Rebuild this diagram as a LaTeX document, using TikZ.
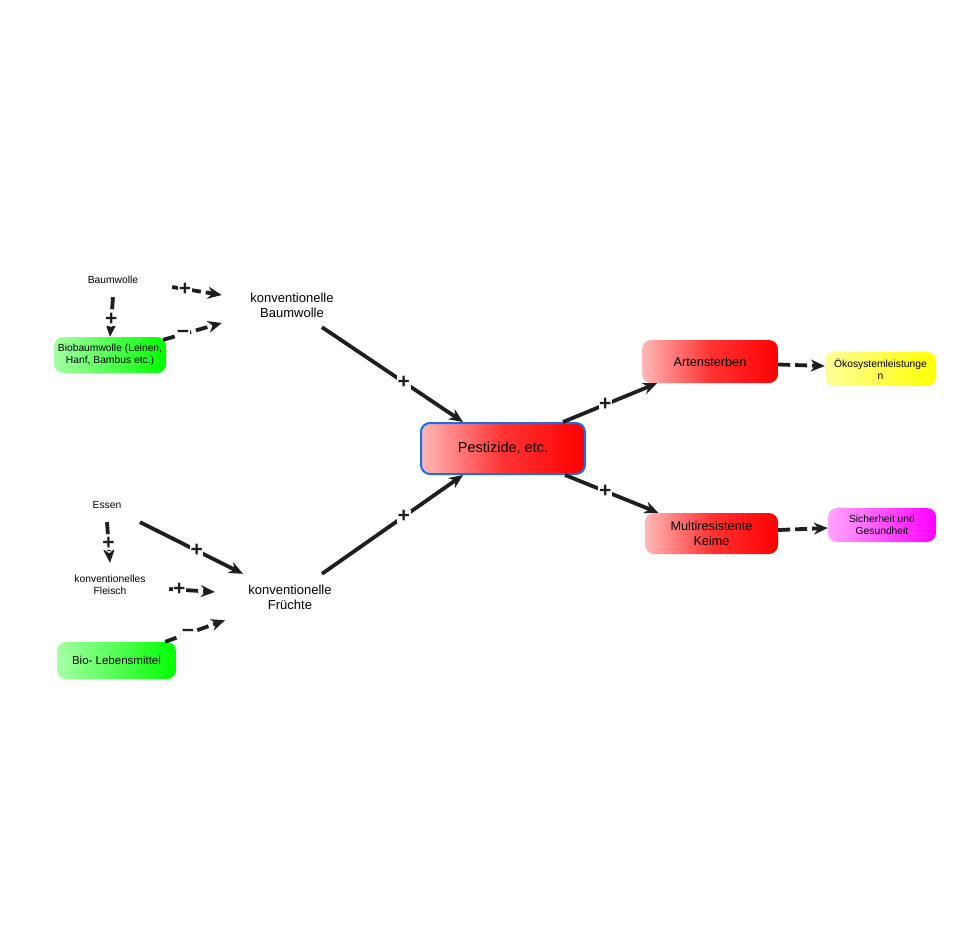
\documentclass[tikz,border=0pt]{standalone}
\usepackage{fontspec}
\setmainfont{Liberation Sans}
\usepackage{tikz}
\usetikzlibrary{calc,arrows.meta}
\usepackage{xcolor}
\definecolor{lineGray}{HTML}{1E1E1E}
\definecolor{rimBlue}{HTML}{1A6EE6}

\begin{document}
\begin{tikzpicture}[x=1pt,y=-1pt,
  small/.style={align=center,inner sep=0pt,font=\fontsize{10.3}{12}\selectfont},
  mid/.style={align=center,inner sep=0pt,font=\fontsize{13}{15}\selectfont},
  box/.style={align=center,inner sep=0pt,rounded corners=9pt},
  redbox/.style={box,left color=red!28,right color=red,middle color=red!80},
  arr/.style={draw=lineGray,line width=3.8pt,-{Stealth[length=14pt,width=12pt]}},
  dashy/.style={dash pattern=on 12pt off 5pt},
  sign/.style={fill=white,inner sep=0.6pt,text=lineGray,font=\bfseries\fontsize{21}{21}\selectfont}]
  \useasboundingbox (0,0) rectangle (954,935);
  % upper left group
  \node[small,minimum width=118pt,minimum height=34pt] (nBw) at (113,280) {Baumwolle};
  \node[mid,minimum width=140pt,minimum height=44pt] (nKBw) at (292,305) {konventionelle\\Baumwolle};
  \node[small,box,left color=green!35,right color=green,minimum width=112pt,minimum height=36pt] (nBio) at (110,355) {Biobaumwolle (Leinen,\\Hanf, Bambus etc.)};
  % lower left group
  \node[small,minimum width=118pt,minimum height=34pt] (nEs) at (107,505) {Essen};
  \node[small,minimum width=118pt,minimum height=44pt] (nFl) at (110,585) {konventionelles\\Fleisch};
  \node[mid,minimum width=150pt,minimum height=46pt] (nKFr) at (290,597) {konventionelle\\Früchte};
  \node[box,left color=green!35,right color=green,minimum width=119pt,minimum height=37pt,font=\fontsize{11.5}{13}\selectfont] (nBioL) at (116.5,660.5) {Bio- Lebensmittel};
  % centre and right
  \node[redbox,draw=rimBlue,line width=2pt,minimum width=164pt,minimum height=51pt,font=\fontsize{14.5}{16}\selectfont] (nPe) at (503,448.5) {Pestizide, etc.};
  \node[redbox,mid,font=\fontsize{12.7}{15}\selectfont,minimum width=136pt,minimum height=43pt] (nArt) at (710,361.5) {Artensterben};
  \node[redbox,mid,font=\fontsize{12.7}{15}\selectfont,minimum width=133pt,minimum height=41pt] (nMr) at (711.5,533.5) {Multiresistente\\Keime};
  \node[small,box,left color=yellow!40,right color=yellow,minimum width=111pt,minimum height=34pt] (nOek) at (880.5,369) {Ökosystemleistunge\\n};
  \node[small,box,left color=magenta!35,right color=magenta,minimum width=108pt,minimum height=34pt] (nSi) at (882,525) {Sicherheit und\\Gesundheit};

  \draw[arr,dashy] ([yshift=-7pt]nBw.east) -- node[sign,pos=.26]{+} ([yshift=10pt]nKBw.west);
  \draw[arr,dashy] (nBw.south) -- node[sign,pos=.55]{+} (nBio.north);
  \draw[arr,dashy] ([xshift=-3pt,yshift=-3pt]nBio.north east) -- node[sign,pos=.34]{\char"2212} ([yshift=-18pt]nKBw.west);
  \draw[arr] ([xshift=30pt]nKBw.south) -- node[sign,pos=.58]{+} ([xshift=-40pt]nPe.north);

  \draw[arr] ([xshift=33pt]nEs.south) -- node[sign,pos=.55]{+} ([xshift=-47pt]nKFr.north);
  \draw[arr,dashy] (nEs.south) -- node[sign,pos=.51]{+} (nFl.north);
  \draw[arr,dashy] ([yshift=-4pt]nFl.east) -- node[sign,pos=.22]{+} ([yshift=5pt]nKFr.west);
  \draw[arr,dashy] ([xshift=-11pt]nBioL.north east) -- node[sign,pos=.38]{\char"2212} ([xshift=-65pt]nKFr.south);
  \draw[arr] ([xshift=32pt]nKFr.north) -- node[sign,pos=.58]{+} ([xshift=-40pt]nPe.south);

  \draw[arr] ([xshift=60pt]nPe.north) -- node[sign,pos=.45]{+} ([xshift=-53pt]nArt.south);
  \draw[arr] ([xshift=62pt]nPe.south) -- node[sign,pos=.43]{+} ([xshift=-53pt]nMr.north);
  \draw[arr,dashy] ([yshift=-3pt]nArt.east) -- ([yshift=3pt]nOek.west);
  \draw[arr,dashy] ([yshift=3.5pt]nMr.east) -- ([yshift=-3pt]nSi.west);
\end{tikzpicture}
\end{document}
